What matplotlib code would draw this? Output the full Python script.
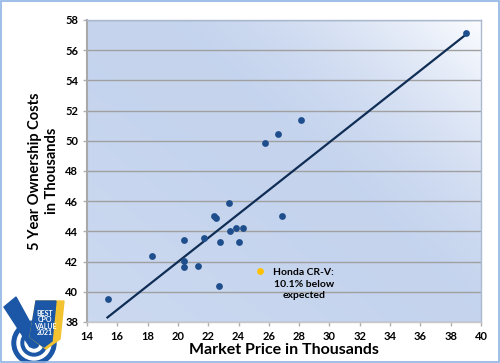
import numpy as np
import matplotlib
matplotlib.use("Agg")
import matplotlib.pyplot as plt
from matplotlib.patches import Circle, Polygon, Rectangle

# market price (thousands) vs 5 year ownership cost (thousands)
price = [15.4, 18.3, 20.4, 20.4, 20.4, 21.3, 21.7, 22.35, 22.5, 22.75, 22.7,
         23.4, 23.45, 23.8, 24.0, 24.3, 26.85, 25.75, 26.6, 28.15, 39.0]
cost = [39.5, 42.4, 43.4, 42.05, 41.65, 41.7, 43.55, 45.0, 44.9, 43.3, 40.35,
        45.9, 44.05, 44.2, 43.3, 44.25, 45.05, 49.85, 50.45, 51.4, 57.15]
honda_price = [25.4]
honda_cost = [41.35]
# expected-cost trend line, end points
trend_x = [15.35, 38.9]
trend_y = [38.3, 56.95]
note = "Honda CR-V:\n10.1% below\nexpected"
xticks = list(range(14, 41, 2))
yticks = list(range(38, 59, 2))

plt.rcParams['font.family'] = ['Lato', 'DejaVu Sans']

fig = plt.figure(figsize=(5, 3.63), dpi=100)
fig.patch.set_facecolor('white')
ax = fig.add_axes([0.174, 0.113, 0.788, 0.832])

# gradient background: mid blue, whitish towards the top right corner
u, v = np.meshgrid(np.linspace(0, 1, 300), np.linspace(0, 1, 300))
base = np.array([0.773, 0.831, 0.933])
light = np.array([0.985, 0.99, 1.0])
t = np.clip((u * 0.55 + v * 0.45 - 0.55) / 0.45, 0, 1) ** 1.6
t = t + 0.25 * np.clip(0.45 - u * 0.5 - v * 0.5, 0, 1)
img = base + (light - base) * t[..., None]
ax.imshow(img, extent=[0, 1, 0, 1], origin='lower', transform=ax.transAxes,
          aspect='auto', zorder=0, interpolation='bilinear')

ax.set_xlim(14, 40)
ax.set_ylim(38, 58)
ax.set_xticks(xticks)
ax.set_yticks(yticks)
ax.grid(axis='y', color='#a0a0a0', linewidth=1.0, zorder=1)
ax.set_axisbelow(True)
for s in ax.spines.values():
    s.set_color('#a9b9cf')
    s.set_linewidth(1.0)
ax.spines['left'].set_color('#a8a8a8')
ax.spines['left'].set_linewidth(1.5)
ax.spines['bottom'].set_color('#c8c8c8')
ax.tick_params(labelsize=8, colors='#b0b0b0', labelcolor='black', length=3, width=1)
for lab in ax.get_xticklabels() + ax.get_yticklabels():
    lab.set_fontweight('bold')

ax.plot(trend_x, trend_y, color='#0f2d55', linewidth=1.6, zorder=3)

ax.scatter(price, cost, s=24, color='#1f4e8c', zorder=4, linewidths=0)
ax.scatter(honda_price, honda_cost, s=24, color='#ffc000', zorder=4, linewidths=0)
ax.text(28.3, 40.5, note, fontsize=7.5, fontweight='bold', ha='center',
        va='center', multialignment='center', zorder=5, linespacing=1.35)

ax.set_xlabel('Market Price in Thousands', fontsize=11.5, fontweight='bold', labelpad=1)
ax.set_ylabel('5 Year Ownership Costs\nin Thousands', fontsize=10.5,
              fontweight='bold', labelpad=4, linespacing=1.3)

# rough badge in the lower left
lg = fig.add_axes([0.0, 0.0, 0.13, 0.19])
lg.set_xlim(0, 65)
lg.set_ylim(0, 69)
lg.axis('off')
for r, c in [(22, '#1b57a6'), (17, 'white'), (13, '#1b57a6'), (9, 'white'), (5, '#1b57a6')]:
    lg.add_patch(Circle((34, 20), r, color=c, zorder=1))
lg.add_patch(Polygon([[4, 56], [16, 66], [38, 26], [30, 16]], color='#1b57a6', zorder=2))
lg.add_patch(Polygon([[36, 62], [64, 62], [60, 24], [46, 14], [30, 26]],
                     color='#f2c230', zorder=3))
lg.add_patch(Polygon([[36, 62], [56, 62], [52, 22], [44, 16], [30, 26]],
                     color='#1b57a6', zorder=3))
lg.text(45, 40, 'BEST\nCPO\nVALUE\n2021', color='white', fontsize=5,
        fontweight='bold', ha='center', va='center', linespacing=0.85, zorder=4)

# blue frame round the picture
fig.add_artist(Rectangle((0.002, 0.003), 0.996, 0.994, transform=fig.transFigure,
                         fill=False, edgecolor='#8eb4e3', linewidth=1.2))

fig.savefig('out.png', dpi=100, facecolor='white')
